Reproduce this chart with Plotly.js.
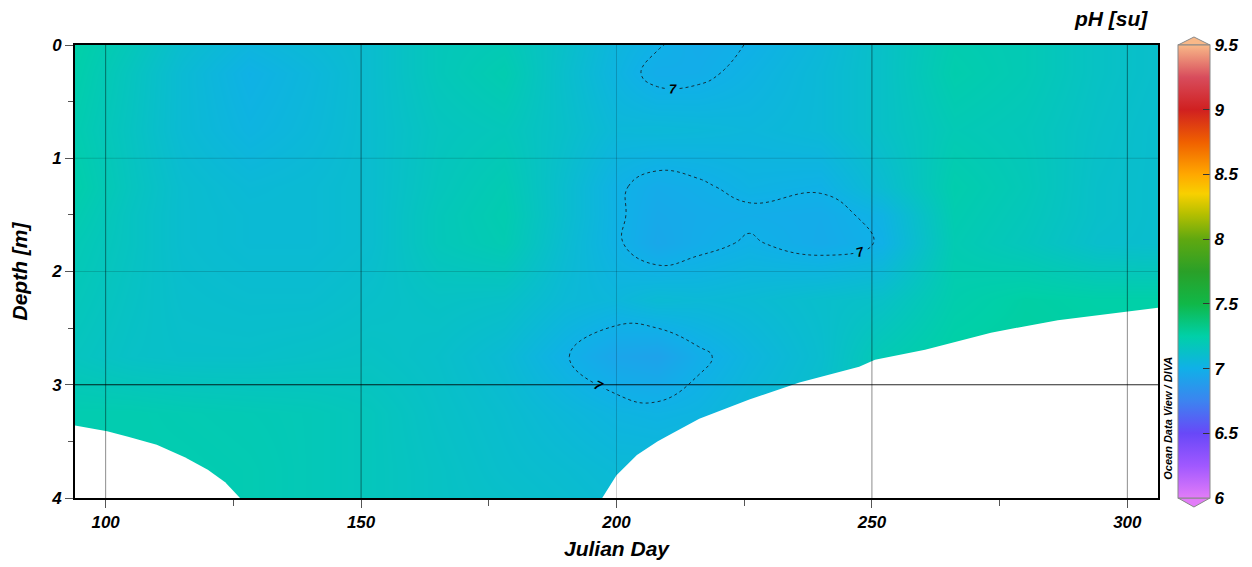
<!DOCTYPE html>
<html>
<head>
<meta charset="utf-8">
<script src="https://cdn.plot.ly/plotly-3.0.1.min.js"></script>
<style>
  html, body { margin: 0; padding: 0; background: #ffffff; }
  #chart { width: 1252px; height: 567px; }
</style>
</head>
<body>
<div id="chart"></div>
<script>
// ---------- data ----------
const julianDays = [94, 105, 115, 128, 140, 152, 165, 178, 190, 200, 208, 216, 226, 240, 252, 266, 280, 294, 306];
const depths = [0, 0.25, 0.75, 1.25, 1.5, 1.75, 2.25, 2.75, 3.25, 3.75, 4];

const ph_d000 = [7.25, 7.18, 7.10, 7.04, 7.07, 7.10, 7.18, 7.20, 7.12, 7.04, 7.005, 6.975, 7.003, 7.06, 7.13, 7.22, 7.20, 7.14, 7.11];
const ph_d025 = [7.24, 7.16, 7.08, 7.01, 7.05, 7.10, 7.18, 7.22, 7.11, 7.03, 6.98, 6.985, 7.02, 7.07, 7.13, 7.23, 7.20, 7.14, 7.11];
const ph_d075 = [7.22, 7.15, 7.08, 7.03, 7.06, 7.10, 7.16, 7.18, 7.12, 7.06, 7.065, 7.06, 7.05, 7.07, 7.13, 7.20, 7.18, 7.13, 7.10];
const ph_d125 = [7.24, 7.16, 7.10, 7.07, 7.08, 7.10, 7.17, 7.21, 7.10, 7.01, 6.975, 6.99, 7.02, 7.008, 7.09, 7.23, 7.19, 7.12, 7.10];
const ph_d150 = [7.22, 7.15, 7.10, 7.08, 7.08, 7.10, 7.18, 7.22, 7.10, 7.012, 6.96, 6.975, 6.985, 6.975, 7.02, 7.22, 7.18, 7.12, 7.10];
const ph_d175 = [7.20, 7.15, 7.10, 7.08, 7.08, 7.10, 7.18, 7.21, 7.09, 7.01, 6.95, 6.98, 7.008, 6.97, 7.005, 7.21, 7.17, 7.11, 7.10];
const ph_d225 = [7.18, 7.14, 7.11, 7.10, 7.10, 7.12, 7.14, 7.13, 7.07, 7.05, 7.08, 7.07, 7.08, 7.11, 7.13, 7.23, 7.26, 7.25, 7.25];
const ph_d275 = [7.16, 7.13, 7.12, 7.12, 7.13, 7.14, 7.12, 7.08, 7.005, 6.94, 6.92, 6.985, 7.04, 7.10, 7.20, 7.26, 7.27, 7.26, 7.25];
const ph_d325 = [7.22, 7.22, 7.21, 7.20, 7.19, 7.17, 7.13, 7.10, 7.06, 7.03, 7.02, 7.03, 7.07, 7.12, 7.20, 7.25, 7.26, 7.26, 7.25];
const ph_d375 = [7.22, 7.22, 7.22, 7.21, 7.19, 7.17, 7.14, 7.11, 7.09, 7.07, 7.07, 7.08, 7.10, 7.14, 7.20, 7.24, 7.25, 7.25, 7.25];
const ph_d400 = [7.22, 7.22, 7.22, 7.21, 7.19, 7.17, 7.14, 7.12, 7.10, 7.08, 7.08, 7.09, 7.10, 7.14, 7.20, 7.24, 7.25, 7.25, 7.25];

// masked (no data) areas: bottom limit of the gridded field
const leftMaskDays   = [94, 100.3, 104.4, 110, 115.5, 120, 123.4, 126, 126.3, 94];
const leftMaskDepths = [3.36, 3.41, 3.46, 3.53, 3.64, 3.75, 3.86, 3.99, 4, 4];
const rightMaskDays   = [197.2, 200, 204, 208, 210.5, 216.2, 226, 235.8, 247.5, 250.6, 260.4, 273.3, 286.4, 299.6, 306, 306];
const rightMaskDepths = [4, 3.8, 3.62, 3.5, 3.44, 3.3, 3.13, 2.98, 2.84, 2.78, 2.69, 2.54, 2.43, 2.36, 2.32, 4];

const xTicks = [100, 150, 200, 250, 300];
const yTicks = [0, 1, 2, 3, 4];
const cbTicks = [6, 6.5, 7, 7.5, 8, 8.5, 9, 9.5];
const contourLevel = 7;

// ---------- styling ----------
const FONT = 'Liberation Sans, Arial, sans-serif';
const zGrid = [ph_d000, ph_d025, ph_d075, ph_d125, ph_d150, ph_d175, ph_d225, ph_d275, ph_d325, ph_d375, ph_d400];

const cmin = 6, cmax = 9.5;
const stops = [
  [6.0, '#e27cf8'], [6.25, '#a058ff'], [6.5, '#6848f8'], [6.75, '#3c84f0'],
  [7.0, '#10b0e8'], [7.25, '#00d0a8'], [7.5, '#10b848'], [7.75, '#2aa028'],
  [8.0, '#60a810'], [8.2, '#b8c000'], [8.35, '#f8d000'], [8.5, '#ffa800'],
  [8.75, '#f06000'], [9.0, '#d02020'], [9.25, '#d84c5c'], [9.5, '#f8b888']
];
const colorscale = stops.map(s => [(s[0] - cmin) / (cmax - cmin), s[1]]);

const heat = {
  type: 'heatmap', x: julianDays, y: depths, z: zGrid,
  zsmooth: 'best', colorscale: colorscale, zmin: cmin, zmax: cmax,
  hoverinfo: 'skip',
  colorbar: {
    x: 1.0185, xanchor: 'left', xpad: 0,
    y: 1, yanchor: 'top', len: 1, lenmode: 'fraction', ypad: 0,
    thickness: 32, thicknessmode: 'pixels',
    outlinewidth: 1, outlinecolor: '#888888',
    tickvals: cbTicks, ticktext: cbTicks.map(String),
    ticks: 'inside', ticklen: 7, tickcolor: '#333333', tickwidth: 1,
    tickfont: { family: FONT, size: 17, color: '#000', weight: 'bold', style: 'italic' }
  }
};

const contour = {
  type: 'contour', x: julianDays, y: depths, z: zGrid,
  autocontour: false,
  contours: {
    coloring: 'none', start: contourLevel, end: contourLevel, size: 1,
    showlabels: true,
    labelfont: { family: FONT, size: 13, color: '#000', weight: 'bold', style: 'italic' }
  },
  line: { color: '#14303c', width: 1, dash: 'dot', smoothing: 1.3 },
  showscale: false, hoverinfo: 'skip'
};

const leftMask = {
  type: 'scatter', mode: 'lines', x: leftMaskDays, y: leftMaskDepths,
  fill: 'toself', fillcolor: '#ffffff', line: { width: 0, color: '#ffffff' },
  hoverinfo: 'skip', showlegend: false
};
const rightMask = {
  type: 'scatter', mode: 'lines', x: rightMaskDays, y: rightMaskDepths,
  fill: 'toself', fillcolor: '#ffffff', line: { width: 0, color: '#ffffff' },
  hoverinfo: 'skip', showlegend: false
};

const shapes = [];
xTicks.forEach(v => {
  shapes.push({ type: 'line', layer: 'above', xref: 'x', yref: 'paper', x0: v, x1: v, y0: 0, y1: 1,
    line: { color: v === 200 ? 'rgba(0,0,0,0.18)' : 'rgba(0,0,0,0.45)', width: 1 } });
});
[1, 2, 3].forEach(v => {
  shapes.push({ type: 'line', layer: 'above', xref: 'paper', yref: 'y', x0: 0, x1: 1, y0: v, y1: v,
    line: { color: v === 3 ? 'rgba(0,0,0,0.85)' : 'rgba(0,0,0,0.15)', width: 1 } });
});
// colorbar end arrows
shapes.push({ type: 'path', xref: 'paper', yref: 'paper', layer: 'above',
  path: 'M 1.0185 1 L 1.0332 1.0177 L 1.048 1 Z', fillcolor: '#f8b888', line: { color: '#888888', width: 1 } });
shapes.push({ type: 'path', xref: 'paper', yref: 'paper', layer: 'above',
  path: 'M 1.0185 0 L 1.0332 -0.0199 L 1.048 0 Z', fillcolor: '#e27cf8', line: { color: '#888888', width: 1 } });

const tickFont = { family: FONT, size: 17, color: '#000', weight: 'bold', style: 'italic' };
const titleFont = { family: FONT, size: 21, color: '#000', weight: 'bold', style: 'italic' };

const layout = {
  width: 1252, height: 567,
  margin: { l: 75, r: 94, t: 45, b: 69, pad: 0, autoexpand: false },
  paper_bgcolor: '#ffffff', plot_bgcolor: '#ffffff',
  showlegend: false,
  xaxis: {
    range: [94, 306], tickvals: xTicks, ticktext: xTicks.map(String),
    ticks: 'outside', ticklen: 8, tickcolor: '#555', tickwidth: 1,
    minor: { dtick: 25, tick0: 100, ticks: 'outside', ticklen: 6, tickcolor: '#555', showgrid: false },
    showgrid: false, zeroline: false,
    showline: true, linewidth: 2, linecolor: '#000', mirror: true,
    tickfont: tickFont,
    title: { text: 'Julian Day', font: titleFont, standoff: 10 }
  },
  yaxis: {
    range: [4, 0], tickvals: yTicks, ticktext: yTicks.map(String),
    ticks: 'outside', ticklen: 8, tickcolor: '#555', tickwidth: 1,
    minor: { dtick: 0.5, tick0: 0, ticks: 'outside', ticklen: 5, tickcolor: '#555', showgrid: false },
    showgrid: false, zeroline: false,
    showline: true, linewidth: 2, linecolor: '#000', mirror: true,
    tickfont: tickFont,
    title: { text: 'Depth [m]', font: titleFont, standoff: 18 }
  },
  shapes: shapes,
  annotations: [
    { text: 'pH [su]', xref: 'paper', yref: 'paper', x: 0.9926, y: 1.0596,
      xanchor: 'right', yanchor: 'middle', showarrow: false,
      font: { family: FONT, size: 21, color: '#000', weight: 'bold', style: 'italic' } },
    { text: 'Ocean Data View / DIVA', xref: 'paper', yref: 'paper', x: 1.0092, y: 0.177,
      xanchor: 'center', yanchor: 'middle', textangle: -90, showarrow: false,
      font: { family: FONT, size: 11, color: '#000', weight: 'bold', style: 'italic' } }
  ]
};

Plotly.newPlot('chart', [heat, contour, leftMask, rightMask], layout, { displayModeBar: false, staticPlot: true });
</script>
</body>
</html>
